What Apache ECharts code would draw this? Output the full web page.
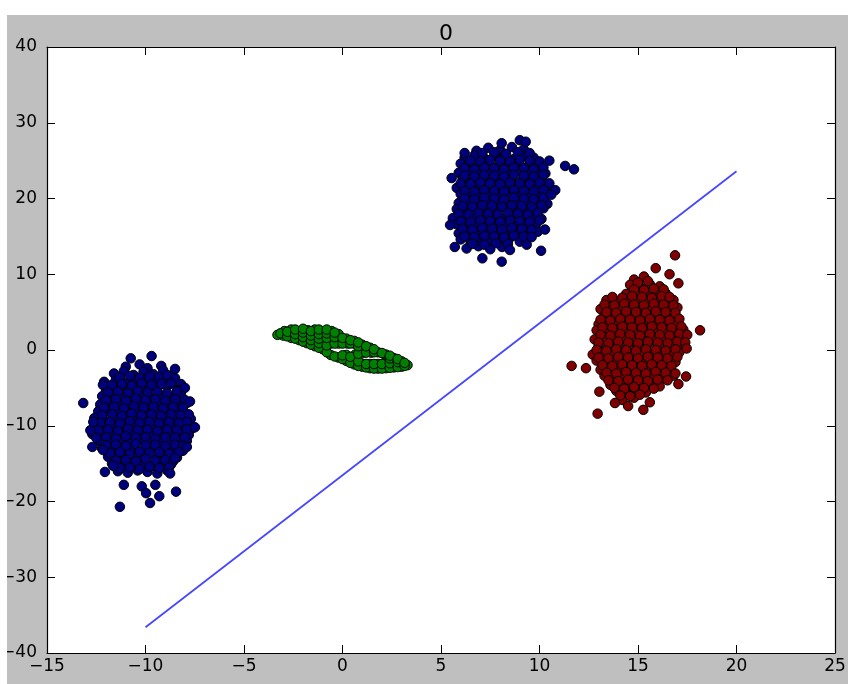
<!DOCTYPE html>
<html><head><meta charset="utf-8">
<script src="https://cdn.jsdelivr.net/npm/echarts@6/dist/echarts.min.js"></script>
<style>html,body{margin:0;padding:0;background:#fff;}
#c{position:absolute;left:7px;top:15px;width:841px;height:669px;background:#bfbfbf;}</style>
</head><body><div id="c"></div><script>
const titleText = "0";
const xTicks = [-15, -10, -5, 0, 5, 10, 15, 20, 25];
const yTicks = [-40, -30, -20, -10, 0, 10, 20, 30, 40];

const blueLower = [
[-11.0,-2.2],[-10.3,-1.9],[-9.9,-2.4],[-9.2,-2.1],
[-11.6,-3.1],[-11.1,-2.8],[-10.6,-3.3],[-10.1,-2.9],[-9.6,-3.2],[-9.1,-2.7],[-8.7,-3.4],
[-12.1,-4.2],[-11.5,-3.9],[-11.0,-4.4],[-10.5,-4.0],[-10.0,-3.8],[-9.5,-4.3],[-9.0,-4.1],[-8.5,-3.7],[-8.2,-4.5],
[-12.0,-5.3],[-11.4,-5.0],[-10.9,-5.4],[-10.4,-4.9],[-9.9,-5.2],[-9.4,-5.1],[-8.9,-4.8],[-8.4,-5.3],[-8.0,-5.0],
[-12.2,-6.1],[-11.7,-5.8],[-11.2,-6.3],[-10.7,-6.0],[-10.2,-5.9],[-9.7,-6.4],[-9.2,-6.0],[-8.7,-6.2],[-8.2,-5.9],
[-12.3,-7.2],[-11.8,-6.9],[-11.3,-7.3],[-10.8,-7.0],[-10.3,-6.8],[-9.8,-7.1],[-9.3,-7.4],[-8.8,-6.9],[-8.3,-7.2],[-7.9,-7.0],
[-12.4,-8.1],[-11.9,-7.8],[-11.4,-8.3],[-10.9,-8.0],[-10.4,-8.2],[-9.9,-7.9],[-9.4,-8.4],[-8.9,-8.0],[-8.4,-7.8],[-8.0,-8.3],
[-12.6,-9.0],[-12.1,-9.3],[-11.6,-8.9],[-11.1,-9.2],[-10.6,-9.1],[-10.1,-8.8],[-9.6,-9.3],[-9.1,-9.0],[-8.6,-9.2],[-8.1,-8.9],[-7.7,-9.1],
[-12.5,-10.2],[-12.0,-9.9],[-11.5,-10.1],[-11.0,-10.3],[-10.5,-9.8],[-10.0,-10.0],[-9.5,-10.4],[-9.0,-9.9],[-8.5,-10.2],[-8.0,-10.0],[-7.6,-10.3],
[-12.7,-11.1],[-12.2,-10.9],[-11.7,-11.3],[-11.2,-11.0],[-10.7,-10.8],[-10.2,-11.2],[-9.7,-11.1],[-9.2,-10.9],[-8.7,-11.3],[-8.2,-11.0],[-7.8,-11.2],
[-12.3,-12.1],[-11.8,-11.9],[-11.3,-12.3],[-10.8,-12.0],[-10.3,-11.8],[-9.8,-12.2],[-9.3,-12.0],[-8.8,-11.9],[-8.3,-12.3],[-7.9,-12.0],
[-12.2,-13.0],[-11.6,-13.2],[-11.1,-12.9],[-10.6,-13.1],[-10.1,-13.3],[-9.6,-12.8],[-9.1,-13.1],[-8.6,-13.0],[-8.1,-13.3],
[-11.9,-14.1],[-11.4,-13.9],[-10.9,-14.2],[-10.4,-14.0],[-9.9,-13.8],[-9.4,-14.3],[-8.9,-14.0],[-8.4,-14.2],
[-11.7,-15.0],[-11.2,-15.2],[-10.7,-14.9],[-10.2,-15.1],[-9.7,-15.3],[-9.2,-14.8],[-8.7,-15.1],
[-11.4,-16.0],[-10.9,-16.2],[-10.4,-15.9],[-9.9,-16.1],[-9.4,-16.3],[-8.9,-15.9],
[-11.3,-3.6],[-10.8,-3.4],[-10.3,-3.7],[-9.8,-3.5],[-9.3,-3.6],[-8.9,-3.3],
[-11.7,-4.6],[-11.2,-4.5],[-10.7,-4.7],[-10.2,-4.4],[-9.7,-4.6],[-9.2,-4.5],[-8.7,-4.4],
[-11.9,-5.6],[-11.4,-5.5],[-10.9,-5.7],[-10.4,-5.4],[-9.9,-5.6],[-9.4,-5.5],[-8.9,-5.7],[-8.4,-5.5],
[-12.0,-6.6],[-11.5,-6.5],[-11.0,-6.7],[-10.5,-6.4],[-10.0,-6.6],[-9.5,-6.5],[-9.0,-6.7],[-8.5,-6.5],[-8.0,-6.6],
[-12.1,-7.6],[-11.6,-7.5],[-11.1,-7.7],[-10.6,-7.4],[-10.1,-7.6],[-9.6,-7.5],[-9.1,-7.7],[-8.6,-7.5],[-8.1,-7.6],
[-12.2,-8.6],[-11.7,-8.5],[-11.2,-8.7],[-10.7,-8.4],[-10.2,-8.6],[-9.7,-8.5],[-9.2,-8.7],[-8.7,-8.5],[-8.2,-8.6],[-7.8,-8.5],
[-12.3,-9.6],[-11.8,-9.5],[-11.3,-9.7],[-10.8,-9.4],[-10.3,-9.6],[-9.8,-9.5],[-9.3,-9.7],[-8.8,-9.5],[-8.3,-9.6],[-7.9,-9.5],
[-12.4,-10.6],[-11.9,-10.5],[-11.4,-10.7],[-10.9,-10.4],[-10.4,-10.6],[-9.9,-10.5],[-9.4,-10.7],[-8.9,-10.5],[-8.4,-10.6],[-7.9,-10.5],
[-12.5,-11.6],[-12.0,-11.5],[-11.5,-11.7],[-11.0,-11.4],[-10.5,-11.6],[-10.0,-11.5],[-9.5,-11.7],[-9.0,-11.5],[-8.5,-11.6],[-8.0,-11.5],
[-12.0,-12.6],[-11.5,-12.5],[-11.0,-12.7],[-10.5,-12.4],[-10.0,-12.6],[-9.5,-12.5],[-9.0,-12.7],[-8.5,-12.5],[-8.1,-12.6],
[-11.8,-13.6],[-11.3,-13.5],[-10.8,-13.7],[-10.3,-13.4],[-9.8,-13.6],[-9.3,-13.5],[-8.8,-13.7],[-8.3,-13.5],
[-11.5,-14.6],[-11.0,-14.5],[-10.5,-14.7],[-10.0,-14.4],[-9.5,-14.6],[-9.0,-14.5],[-8.6,-14.7],
[-11.3,-15.6],[-10.8,-15.5],[-10.3,-15.7],[-9.8,-15.4],[-9.3,-15.6],[-8.8,-15.5],
[-13.16,-7.0],[-11.3,-20.7],[-10.75,-1.1],[-9.69,-0.8],[-8.5,-2.5],[-7.74,-6.8],[-7.49,-10.2],[-8.45,-18.7],
[-9.77,-20.2],[-11.1,-17.8],[-12.06,-16.1],[-12.8,-10.6],[-12.7,-12.8],[-12.16,-4.6],
[-10.19,-18.0],[-9.97,-18.9],[-9.5,-17.8],[-9.3,-19.3],[-11.64,-15.3],[-12.16,-13.2],[-7.9,-12.8],
[-8.5,-14.3],[-8.75,-16.3],[-12.65,-9.5]
];

const blueUpper = [
[6.8,26.3],[7.4,26.7],[8.0,26.4],[8.6,26.8],[9.2,26.5],
[6.2,25.4],[6.7,25.7],[7.2,25.3],[7.7,25.6],[8.2,25.5],[8.7,25.2],[9.2,25.7],[9.7,25.4],
[6.0,24.6],[6.5,24.3],[7.0,24.7],[7.5,24.4],[8.0,24.5],[8.5,24.8],[9.0,24.3],[9.5,24.6],[10.0,24.4],
[5.9,23.4],[6.4,23.7],[6.9,23.3],[7.4,23.6],[7.9,23.5],[8.4,23.2],[8.9,23.7],[9.4,23.4],[9.9,23.6],[10.3,23.3],
[6.1,22.6],[6.6,22.3],[7.1,22.7],[7.6,22.4],[8.1,22.5],[8.6,22.8],[9.1,22.3],[9.6,22.6],[10.1,22.4],
[5.8,21.4],[6.3,21.7],[6.8,21.3],[7.3,21.6],[7.8,21.5],[8.3,21.2],[8.8,21.7],[9.3,21.4],[9.8,21.6],[10.3,21.3],
[6.0,20.6],[6.5,20.3],[7.0,20.7],[7.5,20.4],[8.0,20.5],[8.5,20.8],[9.0,20.3],[9.5,20.6],[10.0,20.4],
[5.9,19.4],[6.4,19.7],[6.9,19.3],[7.4,19.6],[7.9,19.5],[8.4,19.2],[8.9,19.7],[9.4,19.4],[9.9,19.6],[10.4,19.3],
[5.8,18.6],[6.3,18.3],[6.8,18.7],[7.3,18.4],[7.8,18.5],[8.3,18.8],[8.8,18.3],[9.3,18.6],[9.8,18.4],[10.2,18.7],
[5.6,17.4],[6.1,17.7],[6.6,17.3],[7.1,17.6],[7.6,17.5],[8.1,17.2],[8.6,17.7],[9.1,17.4],[9.6,17.6],[10.1,17.3],
[5.8,16.6],[6.3,16.3],[6.8,16.7],[7.3,16.4],[7.8,16.5],[8.3,16.8],[8.8,16.3],[9.3,16.6],[9.8,16.4],
[5.9,15.4],[6.4,15.7],[6.9,15.3],[7.4,15.6],[7.9,15.5],[8.4,15.2],[8.9,15.7],[9.4,15.4],[9.9,15.6],
[6.0,14.6],[6.5,14.3],[7.0,14.7],[7.5,14.4],[8.0,14.5],[8.5,14.8],[9.0,14.3],
[6.3,13.4],[6.9,13.7],[7.5,13.3],[8.1,13.6],
[7.1,26.0],[7.7,26.1],[8.3,25.9],[8.9,26.1],[9.5,26.0],
[6.5,25.0],[7.0,24.9],[7.5,25.1],[8.0,25.0],[8.5,24.9],[9.0,25.1],[9.5,25.0],[10.0,24.9],
[6.2,24.0],[6.7,23.9],[7.2,24.1],[7.7,24.0],[8.2,23.9],[8.7,24.1],[9.2,24.0],[9.7,23.9],[10.2,24.1],
[6.2,23.0],[6.7,22.9],[7.2,23.1],[7.7,23.0],[8.2,22.9],[8.7,23.1],[9.2,23.0],[9.7,22.9],[10.2,23.1],
[6.0,22.0],[6.5,21.9],[7.0,22.1],[7.5,22.0],[8.0,21.9],[8.5,22.1],[9.0,22.0],[9.5,21.9],[10.0,22.1],[10.5,22.0],
[6.2,21.0],[6.7,20.9],[7.2,21.1],[7.7,21.0],[8.2,20.9],[8.7,21.1],[9.2,21.0],[9.7,20.9],[10.2,21.1],
[6.2,20.0],[6.7,19.9],[7.2,20.1],[7.7,20.0],[8.2,19.9],[8.7,20.1],[9.2,20.0],[9.7,19.9],[10.2,20.1],
[6.1,19.0],[6.6,18.9],[7.1,19.1],[7.6,19.0],[8.1,18.9],[8.6,19.1],[9.1,19.0],[9.6,18.9],[10.1,19.1],
[5.9,18.0],[6.4,17.9],[6.9,18.1],[7.4,18.0],[7.9,17.9],[8.4,18.1],[8.9,18.0],[9.4,17.9],[9.9,18.1],
[6.0,17.0],[6.5,16.9],[7.0,17.1],[7.5,17.0],[8.0,16.9],[8.5,17.1],[9.0,17.0],[9.5,16.9],[10.0,17.1],
[6.1,16.0],[6.6,15.9],[7.1,16.1],[7.6,16.0],[8.1,15.9],[8.6,16.1],[9.1,16.0],[9.6,15.9],
[6.2,15.0],[6.7,14.9],[7.2,15.1],[7.7,15.0],[8.2,14.9],[8.7,15.1],[9.2,15.0],[9.6,14.9],
[6.6,14.0],[7.2,13.9],[7.8,14.1],[8.4,14.0],
[11.3,24.3],[11.75,23.85],[5.54,22.7],[8.08,11.66],[9.35,13.9],[10.08,13.1],[10.28,15.9],[9.0,27.7],
[8.08,27.3],[8.5,13.2],[7.1,12.1],[5.7,13.6],[5.46,16.5],[10.8,21.1],[10.6,20.5],[9.3,27.5],[6.2,26.0],[10.5,25.0]
];

const greenRing = [
[-3.3,2.0],
[-3.0,1.9],[-2.95,2.5],
[-2.6,1.6],[-2.65,2.2],[-2.6,2.7],
[-2.2,1.3],[-2.25,1.9],[-2.2,2.5],
[-1.8,0.9],[-1.85,1.5],[-1.8,2.1],[-1.75,2.6],
[-1.4,0.5],[-1.45,1.1],[-1.4,1.7],[-1.35,2.3],[-1.4,2.7],
[-1.0,0.1],[-1.05,0.7],[-1.0,1.3],[-0.95,1.9],[-1.0,2.5],
[-0.6,-0.65],[-0.6,0.85],[-0.65,1.45],[-0.6,2.05],[-0.55,2.5],
[-0.2,-1.0],[-0.2,0.85],[-0.15,1.45],[-0.2,2.1],
[0.2,-1.45],[0.2,-0.65],[0.25,0.85],[0.2,1.5],
[0.6,-1.9],[0.6,-1.2],[0.65,-0.6],[0.6,0.85],[0.6,1.2],
[1.0,-2.2],[1.0,-1.8],[1.05,-0.35],[1.0,0.2],[1.0,0.7],
[1.4,-2.4],[1.4,-1.85],[1.45,-0.35],[1.4,0.3],
[1.8,-2.45],[1.8,-1.85],[1.8,-0.3],
[2.2,-2.4],[2.2,-1.8],[2.25,-1.2],[2.2,-0.6],
[2.6,-2.3],[2.6,-1.7],[2.6,-1.05],
[3.0,-2.2],[3.0,-1.5],
[3.3,-2.0],
[-3.15,2.2],[-2.8,1.8],[-2.8,2.4],[-2.4,1.5],[-2.4,2.1],[-2.4,2.7],[-2.0,1.1],[-2.0,1.7],[-2.0,2.3],[-2.0,2.8],
[-1.6,0.7],[-1.6,1.3],[-1.6,1.9],[-1.6,2.5],[-1.2,0.3],[-1.2,0.9],[-1.2,1.5],[-1.2,2.1],[-1.2,2.7],
[-0.8,-0.3],[-0.8,0.6],[-0.8,1.6],[-0.8,2.2],[-0.8,2.7],[-0.4,-0.85],[-0.4,0.85],[-0.4,1.7],[-0.4,2.3],
[0.0,-1.2],[0.0,-0.7],[0.0,0.85],[0.0,1.6],[0.4,-1.7],[0.4,-0.9],[0.4,0.85],[0.4,1.3],
[0.8,-2.1],[0.8,-1.5],[0.8,-0.5],[0.8,0.5],[0.8,1.0],[1.2,-2.3],[1.2,-1.85],[1.2,-0.35],[1.2,0.5],
[1.6,-2.45],[1.6,-1.85],[1.6,-0.3],[1.6,0.1],[2.0,-2.45],[2.0,-1.85],[2.0,-0.4],
[2.4,-2.35],[2.4,-1.75],[2.4,-1.1],[2.4,-0.75],[2.8,-2.25],[2.8,-1.6],[2.8,-1.2],[3.15,-2.1],[3.15,-1.7]
];

const redCluster = [
[14.8,9.3],[15.3,9.7],
[14.6,8.6],[15.1,8.3],[15.6,8.7],[16.1,8.4],
[14.4,7.4],[14.9,7.7],[15.4,7.3],[15.9,7.6],[16.4,7.5],
[13.4,6.6],[13.9,6.3],[14.4,6.7],[14.9,6.4],[15.4,6.5],[15.9,6.8],[16.4,6.3],[16.8,6.6],
[13.1,5.4],[13.6,5.7],[14.1,5.3],[14.6,5.6],[15.1,5.5],[15.6,5.2],[16.1,5.7],[16.6,5.4],[17.0,5.6],
[13.3,4.6],[13.8,4.3],[14.3,4.7],[14.8,4.4],[15.3,4.5],[15.8,4.8],[16.3,4.3],[16.8,4.6],
[13.0,3.4],[13.5,3.7],[14.0,3.3],[14.5,3.6],[15.0,3.5],[15.5,3.2],[16.0,3.7],[16.5,3.4],[17.0,3.6],
[12.9,2.6],[13.4,2.3],[13.9,2.7],[14.4,2.4],[14.9,2.5],[15.4,2.8],[15.9,2.3],[16.4,2.6],[16.9,2.4],[17.3,2.7],
[12.8,1.4],[13.3,1.7],[13.8,1.3],[14.3,1.6],[14.8,1.5],[15.3,1.2],[15.8,1.7],[16.3,1.4],[16.8,1.6],[17.3,1.3],
[13.0,0.6],[13.5,0.3],[14.0,0.7],[14.5,0.4],[15.0,0.5],[15.5,0.8],[16.0,0.3],[16.5,0.6],[17.0,0.4],
[12.7,-0.6],[13.2,-0.3],[13.7,-0.7],[14.2,-0.4],[14.7,-0.5],[15.2,-0.2],[15.7,-0.7],[16.2,-0.4],[16.7,-0.6],[17.1,-0.3],
[12.9,-1.4],[13.4,-1.7],[13.9,-1.3],[14.4,-1.6],[14.9,-1.5],[15.4,-1.2],[15.9,-1.7],[16.4,-1.4],[16.9,-1.6],
[13.1,-2.6],[13.6,-2.3],[14.1,-2.7],[14.6,-2.4],[15.1,-2.5],[15.6,-2.8],[16.1,-2.3],[16.6,-2.6],
[13.3,-3.4],[13.8,-3.7],[14.3,-3.3],[14.8,-3.6],[15.3,-3.5],[15.8,-3.2],[16.3,-3.7],[16.8,-3.4],
[13.6,-4.6],[14.1,-4.3],[14.6,-4.7],[15.1,-4.4],[15.6,-4.5],[16.1,-4.8],
[13.9,-5.4],[14.4,-5.7],[14.9,-5.3],[15.4,-5.6],
[14.2,-6.6],[14.8,-6.3],
[15.0,8.9],[15.5,9.1],
[14.8,8.0],[15.3,7.9],[15.8,8.1],[16.3,8.0],
[13.7,7.0],[14.2,6.9],[14.7,7.1],[15.2,7.0],[15.7,6.9],[16.2,7.1],[16.6,7.0],
[13.3,6.0],[13.8,5.9],[14.3,6.1],[14.8,6.0],[15.3,5.9],[15.8,6.1],[16.3,6.0],[16.8,5.9],
[13.4,5.0],[13.9,4.9],[14.4,5.1],[14.9,5.0],[15.4,4.9],[15.9,5.1],[16.4,5.0],[16.9,4.9],
[13.1,4.0],[13.6,3.9],[14.1,4.1],[14.6,4.0],[15.1,3.9],[15.6,4.1],[16.1,4.0],[16.6,3.9],[17.1,4.1],
[13.2,3.0],[13.7,2.9],[14.2,3.1],[14.7,3.0],[15.2,2.9],[15.7,3.1],[16.2,3.0],[16.7,2.9],[17.2,3.1],
[13.1,2.0],[13.6,1.9],[14.1,2.1],[14.6,2.0],[15.1,1.9],[15.6,2.1],[16.1,2.0],[16.6,1.9],[17.1,2.1],[17.5,2.0],
[13.0,1.0],[13.5,0.9],[14.0,1.1],[14.5,1.0],[15.0,0.9],[15.5,1.1],[16.0,1.0],[16.5,0.9],[17.0,1.1],[17.4,1.0],
[12.9,0.0],[13.4,-0.1],[13.9,0.1],[14.4,0.0],[14.9,-0.1],[15.4,0.1],[15.9,0.0],[16.4,-0.1],[16.9,0.1],
[13.0,-1.0],[13.5,-1.1],[14.0,-0.9],[14.5,-1.0],[15.0,-1.1],[15.5,-0.9],[16.0,-1.0],[16.5,-1.1],[17.0,-0.9],
[13.2,-2.0],[13.7,-2.1],[14.2,-1.9],[14.7,-2.0],[15.2,-2.1],[15.7,-1.9],[16.2,-2.0],[16.7,-2.1],
[13.4,-3.0],[13.9,-3.1],[14.4,-2.9],[14.9,-3.0],[15.4,-3.1],[15.9,-2.9],[16.4,-3.0],[16.9,-3.1],
[13.5,-4.0],[14.0,-4.1],[14.5,-3.9],[15.0,-4.0],[15.5,-4.1],[16.0,-3.9],[16.5,-4.0],
[13.8,-5.0],[14.3,-5.1],[14.8,-4.9],[15.3,-5.0],[15.8,-5.1],
[14.1,-6.0],[14.6,-6.1],[15.1,-5.9],
[16.88,12.5],[15.9,10.8],[17.05,8.8],[18.15,2.6],[11.63,-2.1],[12.36,-2.4],[12.95,-8.4],[15.27,-7.9],
[17.05,-4.5],[17.44,-3.5],[13.04,-5.5],[13.83,-7.0],[17.47,0.2],[14.5,-7.4],[16.6,10.0],[15.6,-6.9]
];

const boundaryLine = [[-10, -36.6], [20, 23.6]];

const chart = echarts.init(document.getElementById('c'));
const fmt = v => String(v).replace('-', '\u2212');
const FONT = 'DejaVu Sans';
const tick = {show: true, inside: true, length: 8, lineStyle: {color: '#000', width: 1}};
const line = {show: true, onZero: false, lineStyle: {color: '#000', width: 1.2}};
function xAx(pos, showLabel) {
  return {type: 'value', position: pos, min: xTicks[0], max: xTicks[xTicks.length-1], interval: 5,
    axisLine: line, splitLine: {show: false}, axisTick: tick,
    axisLabel: {show: showLabel, color: '#000', fontFamily: FONT, fontSize: 17, margin: 5, formatter: fmt}};
}
function yAx(pos, showLabel) {
  return {type: 'value', position: pos, min: yTicks[0], max: yTicks[yTicks.length-1], interval: 10,
    axisLine: line, splitLine: {show: false}, axisTick: tick,
    axisLabel: {show: showLabel, color: '#000', fontFamily: FONT, fontSize: 17, margin: 10, formatter: fmt}};
}
const scatterStyle = (c) => ({color: c, borderColor: '#000', borderWidth: 1, opacity: 1});
chart.setOption({
  animation: false,
  backgroundColor: 'transparent',
  title: {text: titleText, left: 434, top: 3, textAlign: 'center',
    textStyle: {fontFamily: FONT, fontSize: 22, fontWeight: 'normal', color: '#000'}},
  grid: {left: 40, top: 32, width: 788, height: 606, show: true, backgroundColor: '#fff',
    borderWidth: 0, outerBoundsMode: 'none', containLabel: false},
  xAxis: [xAx('bottom', true), xAx('top', false)],
  yAxis: [yAx('left', true), yAx('right', false)],
  series: [
    {type: 'scatter', data: blueLower, symbolSize: 9.5, itemStyle: scatterStyle('#00007f')},
    {type: 'scatter', data: blueUpper, symbolSize: 9.5, itemStyle: scatterStyle('#00007f')},
    {type: 'scatter', data: greenRing, symbolSize: 9.5, itemStyle: scatterStyle('#008000')},
    {type: 'scatter', data: redCluster, symbolSize: 9.5, itemStyle: scatterStyle('#7f0000')},
    {type: 'line', data: boundaryLine, symbol: 'none', lineStyle: {color: 'rgba(0,0,255,0.72)', width: 1.8}}
  ]
});
</script></body></html>
